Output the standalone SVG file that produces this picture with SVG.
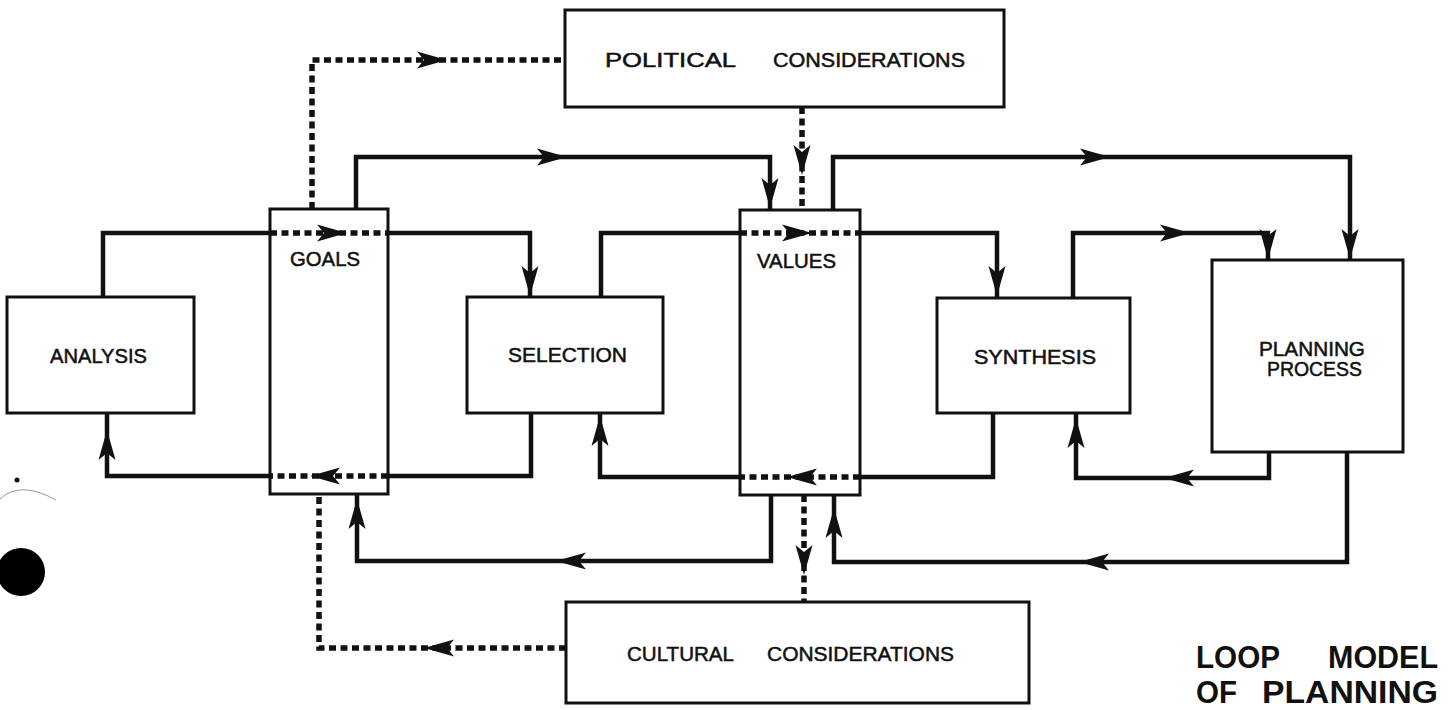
<svg xmlns="http://www.w3.org/2000/svg" width="1450" height="710" viewBox="0 0 1450 710">
<style>
.box{fill:#fff;stroke:#111;stroke-width:3}
.lbl{font-family:"Liberation Sans",Arial,sans-serif;font-size:20px;fill:#111;stroke:#111;stroke-width:0.5}
.ttl{font-family:"Liberation Sans",Arial,sans-serif;font-size:31px;font-weight:bold;fill:#111}
.ln{fill:none;stroke:#111;stroke-width:4.5;stroke-linejoin:miter}
.dt{fill:none;stroke:#111;stroke-width:5.5;stroke-dasharray:7 4.5}
</style>
<defs>
<path id="ah" d="M0,0 L-30,-8.5 L-23,0 L-30,8.5 Z" fill="#111"/>
</defs>
<rect width="1450" height="710" fill="#fff"/>

<g id="political">
<rect class="box" x="565" y="10" width="439" height="97"/>
<text class="lbl" y="67"><tspan x="605" textLength="131" lengthAdjust="spacingAndGlyphs">POLITICAL</tspan><tspan x="773" textLength="192" lengthAdjust="spacingAndGlyphs">CONSIDERATIONS</tspan></text>
</g>
<g id="goals">
<rect class="box" x="270" y="209" width="118" height="285"/>
<text class="lbl" x="290" y="266" textLength="70" lengthAdjust="spacingAndGlyphs">GOALS</text>
</g>
<g id="values">
<rect class="box" x="740" y="210" width="120" height="285"/>
<text class="lbl" x="757" y="268" textLength="79" lengthAdjust="spacingAndGlyphs">VALUES</text>
</g>
<g id="analysis">
<rect class="box" x="7" y="297" width="187" height="116"/>
<text class="lbl" x="50" y="363" textLength="97" lengthAdjust="spacingAndGlyphs">ANALYSIS</text>
</g>
<g id="selection">
<rect class="box" x="467" y="297" width="196" height="116"/>
<text class="lbl" x="508" y="362" textLength="119" lengthAdjust="spacingAndGlyphs">SELECTION</text>
</g>
<g id="synthesis">
<rect class="box" x="937" y="298" width="193" height="115"/>
<text class="lbl" x="974" y="364" textLength="122" lengthAdjust="spacingAndGlyphs">SYNTHESIS</text>
</g>
<g id="planning">
<rect class="box" x="1212" y="260" width="191" height="192"/>
<text class="lbl" x="1259" y="356" textLength="106" lengthAdjust="spacingAndGlyphs">PLANNING</text>
<text class="lbl" x="1267" y="376" textLength="95" lengthAdjust="spacingAndGlyphs">PROCESS</text>
</g>
<g id="cultural">
<rect class="box" x="566" y="602" width="463" height="101"/>
<text class="lbl" y="661"><tspan x="627" textLength="107" lengthAdjust="spacingAndGlyphs">CULTURAL</tspan><tspan x="767" textLength="187" lengthAdjust="spacingAndGlyphs">CONSIDERATIONS</tspan></text>
</g>

<g id="connectors">
<path class="ln" d="M103,297 V233 H270"/>
<path class="ln" d="M388,233 H530 V297"/>
<path class="ln" d="M601,297 V233 H740"/>
<path class="ln" d="M860,233 H997 V298"/>
<path class="ln" d="M1073,298 V233 H1268 V260"/>
<path class="ln" d="M356,209 V157 H770 V210"/>
<path class="ln" d="M833,210 V157 H1350 V260"/>
<path class="ln" d="M1269,452 V478 H1076 V413"/>
<path class="ln" d="M993,413 V477 H860"/>
<path class="ln" d="M740,477 H600 V413"/>
<path class="ln" d="M531,413 V476 H388"/>
<path class="ln" d="M270,476 H107 V413"/>
<path class="ln" d="M771,495 V561 H357 V494"/>
<path class="ln" d="M1347,452 V562 H834 V495"/>

<path class="dt" d="M270,233 H388"/>
<path class="dt" d="M740,233 H860"/>
<path class="dt" d="M860,477 H740"/>
<path class="dt" d="M388,476 H270"/>
<path class="dt" d="M312,209 V60 H565"/>
<path class="dt" d="M802,107 V210"/>
<path class="dt" d="M804,495 V602"/>
<path class="dt" d="M566,648 H319 V494"/>

<use href="#ah" transform="translate(347,233)"/>
<use href="#ah" transform="translate(310,476) rotate(180)"/>
<use href="#ah" transform="translate(812,233)"/>
<use href="#ah" transform="translate(787,477) rotate(180)"/>
<use href="#ah" transform="translate(447,60)"/>
<use href="#ah" transform="translate(802,175) rotate(90)"/>
<use href="#ah" transform="translate(804,575) rotate(90)"/>
<use href="#ah" transform="translate(424,648) rotate(180)"/>

<use href="#ah" transform="translate(530,296) rotate(90)"/>
<use href="#ah" transform="translate(997,296) rotate(90)"/>
<use href="#ah" transform="translate(1190,233)"/>
<use href="#ah" transform="translate(1268,259) rotate(90)"/>
<use href="#ah" transform="translate(567,157)"/>
<use href="#ah" transform="translate(770,208) rotate(90)"/>
<use href="#ah" transform="translate(1110,157)"/>
<use href="#ah" transform="translate(1350,259) rotate(90)"/>
<use href="#ah" transform="translate(1164,478) rotate(180)"/>
<use href="#ah" transform="translate(1076,418) rotate(-90)"/>
<use href="#ah" transform="translate(600,416) rotate(-90)"/>
<use href="#ah" transform="translate(107,430) rotate(-90)"/>
<use href="#ah" transform="translate(556,561) rotate(180)"/>
<use href="#ah" transform="translate(357,499) rotate(-90)"/>
<use href="#ah" transform="translate(1079,562) rotate(180)"/>
<use href="#ah" transform="translate(834,508) rotate(-90)"/>
</g>

<g id="title">
<text class="ttl" y="668"><tspan x="1196" textLength="84" lengthAdjust="spacingAndGlyphs">LOOP</tspan><tspan x="1328" textLength="110" lengthAdjust="spacingAndGlyphs">MODEL</tspan></text>
<text class="ttl" y="703"><tspan x="1196" textLength="41" lengthAdjust="spacingAndGlyphs">OF</tspan><tspan x="1262" textLength="176" lengthAdjust="spacingAndGlyphs">PLANNING</tspan></text>
</g>

<g id="scan-marks">
<circle cx="21" cy="572" r="24" fill="#000"/>
<circle cx="17" cy="480" r="2.5" fill="#111"/>
<path d="M0,499 Q20,480 56,500" fill="none" stroke="#999" stroke-width="1"/>
</g>
</svg>
